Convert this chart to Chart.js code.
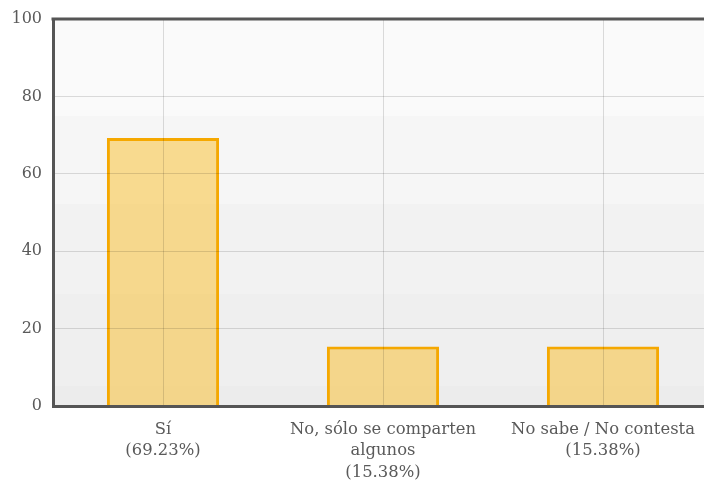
<!DOCTYPE html>
<html>
<head>
<meta charset="utf-8">
<script src="https://cdn.jsdelivr.net/npm/chart.js@4/dist/chart.umd.min.js"></script>
<style>
html,body{margin:0;padding:0;overflow:hidden;background:#fff;}
#wrap{position:relative;width:713px;height:486px;}
</style>
</head>
<body>
<div id="wrap"><canvas id="c"></canvas></div>
<script>
const categories = [["Sí","(69.23%)"],["No, sólo se comparten","algunos","(15.38%)"],["No sabe / No contesta","(15.38%)"]];
const values = [69.23, 15.38, 15.38];
const yTicks = [0, 20, 40, 60, 80, 100];

const bgPlugin = {
  id: 'bg',
  beforeDraw(chart) {
    const {ctx, chartArea: a} = chart;
    const bands = [[0,'#fafafa'],[97,'#f6f6f6'],[185,'#f2f2f2'],[275,'#efefef'],[367,'#ececec']];
    ctx.save();
    for (let i = 0; i < bands.length; i++) {
      const y0 = a.top + bands[i][0];
      const y1 = i + 1 < bands.length ? a.top + bands[i+1][0] : a.bottom;
      ctx.fillStyle = bands[i][1];
      ctx.fillRect(a.left, y0, a.right - a.left, y1 - y0);
    }
    ctx.restore();
  },
  afterDraw(chart) {
    const {ctx, chartArea: a} = chart;
    ctx.save();
    ctx.strokeStyle = '#555';
    ctx.lineWidth = 3;
    ctx.beginPath();
    ctx.moveTo(a.left - 1.5, a.top);
    ctx.lineTo(a.right, a.top);
    ctx.stroke();
    ctx.restore();
  }
};

const xFont = {family: 'DejaVu Serif', size: 16.4, lineHeight: 1.31};
const yFont = {family: 'DejaVu Serif', size: 16, lineHeight: 1};

new Chart(document.getElementById('c'), {
  type: 'bar',
  data: {
    labels: categories,
    datasets: [{
      data: values,
      backgroundColor: 'rgba(250,190,40,0.5)',
      borderColor: '#f5a800',
      borderWidth: 3,
      categoryPercentage: 1,
      barPercentage: 0.51
    }]
  },
  options: {
    responsive: true,
    maintainAspectRatio: false,
    animation: false,
    layout: {padding: {top: 18, right: 0, left: 0, bottom: 0}},
    plugins: {legend: {display: false}, tooltip: {enabled: false}},
    scales: {
      x: {
        grid: {offset: false, color: 'rgba(0,0,0,0.13)', drawTicks: false, z: 1},
        border: {color: '#555', width: 3, z: 2},
        ticks: {color: '#5a5a5a', font: xFont, padding: 13, maxRotation: 0, autoSkip: false},
        afterFit(s) { s.height = 80; }
      },
      y: {
        min: 0, max: 100,
        afterBuildTicks(s) { s.ticks = yTicks.map(v => ({value: v})); },
        grid: {color: 'rgba(0,0,0,0.13)', drawTicks: false, z: 1},
        border: {color: '#555', width: 3, z: 2},
        ticks: {color: '#5a5a5a', font: yFont, padding: 11},
        afterFit(s) { s.width = 53; }
      }
    }
  },
  plugins: [bgPlugin]
});
</script>
</body>
</html>
